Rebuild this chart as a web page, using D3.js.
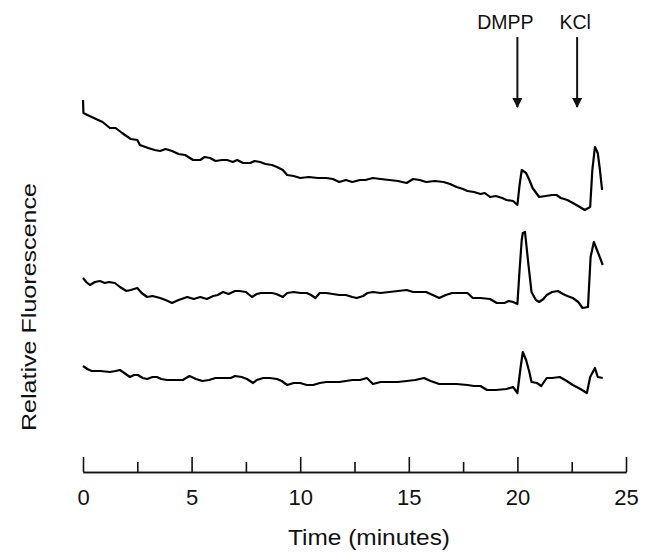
<!DOCTYPE html>
<html>
<head>
<meta charset="utf-8">
<script src="https://cdn.jsdelivr.net/npm/d3@7"></script>
<style>
  body { margin: 0; background: #fff; }
  svg text { font-family: "Liberation Sans", Arial, sans-serif; fill: #111; }
</style>
</head>
<body>
<div id="chart"></div>
<script>
// time in minutes, relative fluorescence in arbitrary units (traces stacked)
const trace1 = [[0,372],[0.02,359],[0.3,356],[0.6,353],[0.9,350],[1.24,344],[1.5,344],[1.8,339],[2.2,333],[2.5,332],[2.62,327],[3,324],[3.3,322],[3.55,321],[3.8,323],[4.1,321],[4.4,318],[4.7,317],[5.07,312],[5.4,312],[5.6,315],[5.85,314],[6.1,311],[6.4,312],[6.63,312],[6.9,310],[7.1,312],[7.37,309],[7.7,309],[7.9,311],[8.15,310],[8.4,308],[8.7,307],[8.93,305],[9.2,302],[9.4,297],[9.7,296],[10,294],[10.4,295],[10.8,294],[11.2,294],[11.5,293],[11.8,290],[12.1,292],[12.4,290],[12.75,292],[13,292],[13.35,294],[13.7,293],[14.1,292],[14.5,291],[14.9,289],[15.2,293],[15.5,292],[15.8,290],[16.2,291],[16.6,290],[16.9,288],[17.2,285],[17.5,283],[17.7,281],[18,280],[18.3,278],[18.5,279],[18.74,275],[19,276],[19.3,274],[19.5,272],[19.8,271],[20,267],[20.1,287],[20.2,302],[20.4,299],[20.55,292],[20.7,284],[21,275],[21.3,276],[21.6,277],[21.8,277],[22,274],[22.3,272],[22.55,269],[22.8,266],[23.1,262],[23.35,265],[23.45,302],[23.57,325],[23.7,319],[23.8,302],[23.9,282]];

const trace2 = [[0,194],[0.15,190],[0.32,187],[0.55,190],[0.78,191],[1,189],[1.2,190],[1.47,189],[1.7,185],[2,181],[2.2,182],[2.5,184],[2.7,179],[2.95,175],[3.2,176],[3.55,174],[3.8,172],[4.1,169],[4.4,172],[4.8,175],[5.1,173],[5.4,175],[5.7,173],[6,176],[6.2,177],[6.45,180],[6.7,178],[7,181],[7.2,181],[7.5,180],[7.78,175],[8,178],[8.2,179],[8.47,179],[8.7,179],[8.9,178],[9.2,175],[9.4,179],[9.7,180],[10,179],[10.3,179],[10.5,177],[10.7,174],[10.9,179],[11.2,179],[11.5,178],[11.8,177],[12.1,177],[12.4,175],[12.6,174],[12.9,176],[13.1,179],[13.35,180],[13.7,179],[14.1,180],[14.5,181],[14.9,182],[15.2,180],[15.5,180],[15.8,180],[16.1,177],[16.4,174],[16.7,177],[17,179],[17.4,179],[17.7,179],[17.95,174],[18.3,174],[18.74,173],[19.05,169],[19.4,169],[19.6,171],[19.8,170],[20,168],[20.1,202],[20.2,232],[20.25,239],[20.35,240],[20.5,209],[20.65,180],[20.85,172],[21,170],[21.2,173],[21.35,177],[21.6,180],[21.87,181],[22.1,178],[22.3,176],[22.55,174],[22.8,170],[23,164],[23.25,165],[23.37,215],[23.52,230],[23.7,220],[23.93,207]];

const trace3 = [[0,106],[0.2,103],[0.4,101],[0.8,101],[1.24,100],[1.5,101],[1.7,102],[1.9,99],[2.16,95],[2.35,97],[2.53,97],[2.75,94],[2.95,93],[3.2,95],[3.4,95],[3.6,93],[3.87,92],[4.2,92],[4.6,92],[4.75,94],[4.9,96],[5.2,93],[5.5,91],[5.8,92],[6.1,94],[6.45,94],[6.8,94],[7,96],[7.3,95],[7.55,93],[7.83,89],[8,92],[8.3,94],[8.6,94],[8.93,93],[9.15,91],[9.4,87],[9.7,89],[10,89],[10.3,87],[10.6,87],[10.9,89],[11.2,90],[11.5,90],[11.8,90],[12.1,91],[12.4,92],[12.75,92],[13.07,94],[13.35,88],[13.7,90],[14.1,90],[14.5,90],[14.9,91],[15.3,92],[15.7,94],[16,91],[16.4,88],[16.8,88],[17.2,88],[17.7,87],[18,86],[18.3,86],[18.6,82],[19,82],[19.5,83],[19.8,85],[20,79],[20.15,105],[20.25,120],[20.4,112],[20.55,100],[20.65,90],[20.9,89],[21.1,86],[21.35,94],[21.6,94],[21.95,95],[22.2,92],[22.55,87],[22.9,83],[23.2,79],[23.35,95],[23.57,104],[23.7,95],[23.93,94]];

const majorTicks = [0, 5, 10, 15, 20, 25];
const minorTicks = [2.5, 7.5, 12.5, 17.5, 22.5];
const additions = ['DMPP', 'KCl'];
const additionTimes = [20, 22.75];

const width = 652, height = 552;
const svg = d3.select('#chart').append('svg')
  .attr('width', width).attr('height', height);

const x = d3.scaleLinear().domain([0, 25]).range([83, 626]);
const y = d3.scaleLinear().domain([0, 400]).range([472, 72]);

const line = d3.line()
  .x(d => x(d[0]))
  .y(d => y(d[1]));

svg.append('g')
  .selectAll('path')
  .data([trace1, trace2, trace3])
  .join('path')
  .attr('d', line)
  .attr('fill', 'none')
  .attr('stroke', '#000')
  .attr('stroke-width', 2.2)
  .attr('stroke-linejoin', 'round');

// x axis, ticks point up, labels below
const axisY = y(0);
const gx = svg.append('g').attr('transform', `translate(0,${axisY})`);
gx.call(d3.axisBottom(x).tickValues(majorTicks).tickSize(-15).tickSizeOuter(0).tickPadding(17));
gx.append('g').call(d3.axisBottom(x).tickValues(minorTicks).tickSize(-10).tickSizeOuter(0).tickFormat(''));
gx.selectAll('path.domain').attr('stroke', '#111').attr('stroke-width', 1.6);
gx.selectAll('.tick line').attr('stroke', '#111').attr('stroke-width', 1.6);
gx.selectAll('.tick text')
  .attr('font-size', 22)
  .attr('font-family', '"Liberation Sans", Arial, sans-serif')
  .attr('fill', '#111');

svg.append('text')
  .attr('x', 369).attr('y', 545)
  .attr('text-anchor', 'middle')
  .attr('font-size', 22)
  .attr('textLength', 162).attr('lengthAdjust', 'spacingAndGlyphs')
  .text('Time (minutes)');

svg.append('text')
  .attr('transform', 'translate(36,307) rotate(-90)')
  .attr('text-anchor', 'middle')
  .attr('font-size', 21)
  .attr('textLength', 248).attr('lengthAdjust', 'spacingAndGlyphs')
  .text('Relative Fluorescence');

// addition arrows
svg.append('defs').append('marker')
  .attr('id', 'head')
  .attr('viewBox', '0 0 10 10')
  .attr('refX', 9).attr('refY', 5)
  .attr('markerWidth', 10).attr('markerHeight', 10)
  .attr('markerUnits', 'userSpaceOnUse')
  .attr('orient', 'auto')
  .append('path').attr('d', 'M0,0 L10,5 L0,10 Z').attr('fill', '#111');

const labelShift = [-12, -2];
const ann = svg.append('g')
  .selectAll('g')
  .data(additions.map((a, i) => ({label: a, t: additionTimes[i], dx: labelShift[i]})))
  .join('g');
ann.append('line')
  .attr('x1', d => x(d.t)).attr('x2', d => x(d.t))
  .attr('y1', 37).attr('y2', 107)
  .attr('stroke', '#111').attr('stroke-width', 2)
  .attr('marker-end', 'url(#head)');
ann.append('text')
  .attr('x', d => x(d.t) + d.dx).attr('y', 29)
  .attr('text-anchor', 'middle')
  .attr('font-size', 19.5)
  .text(d => d.label);
</script>
</body>
</html>
